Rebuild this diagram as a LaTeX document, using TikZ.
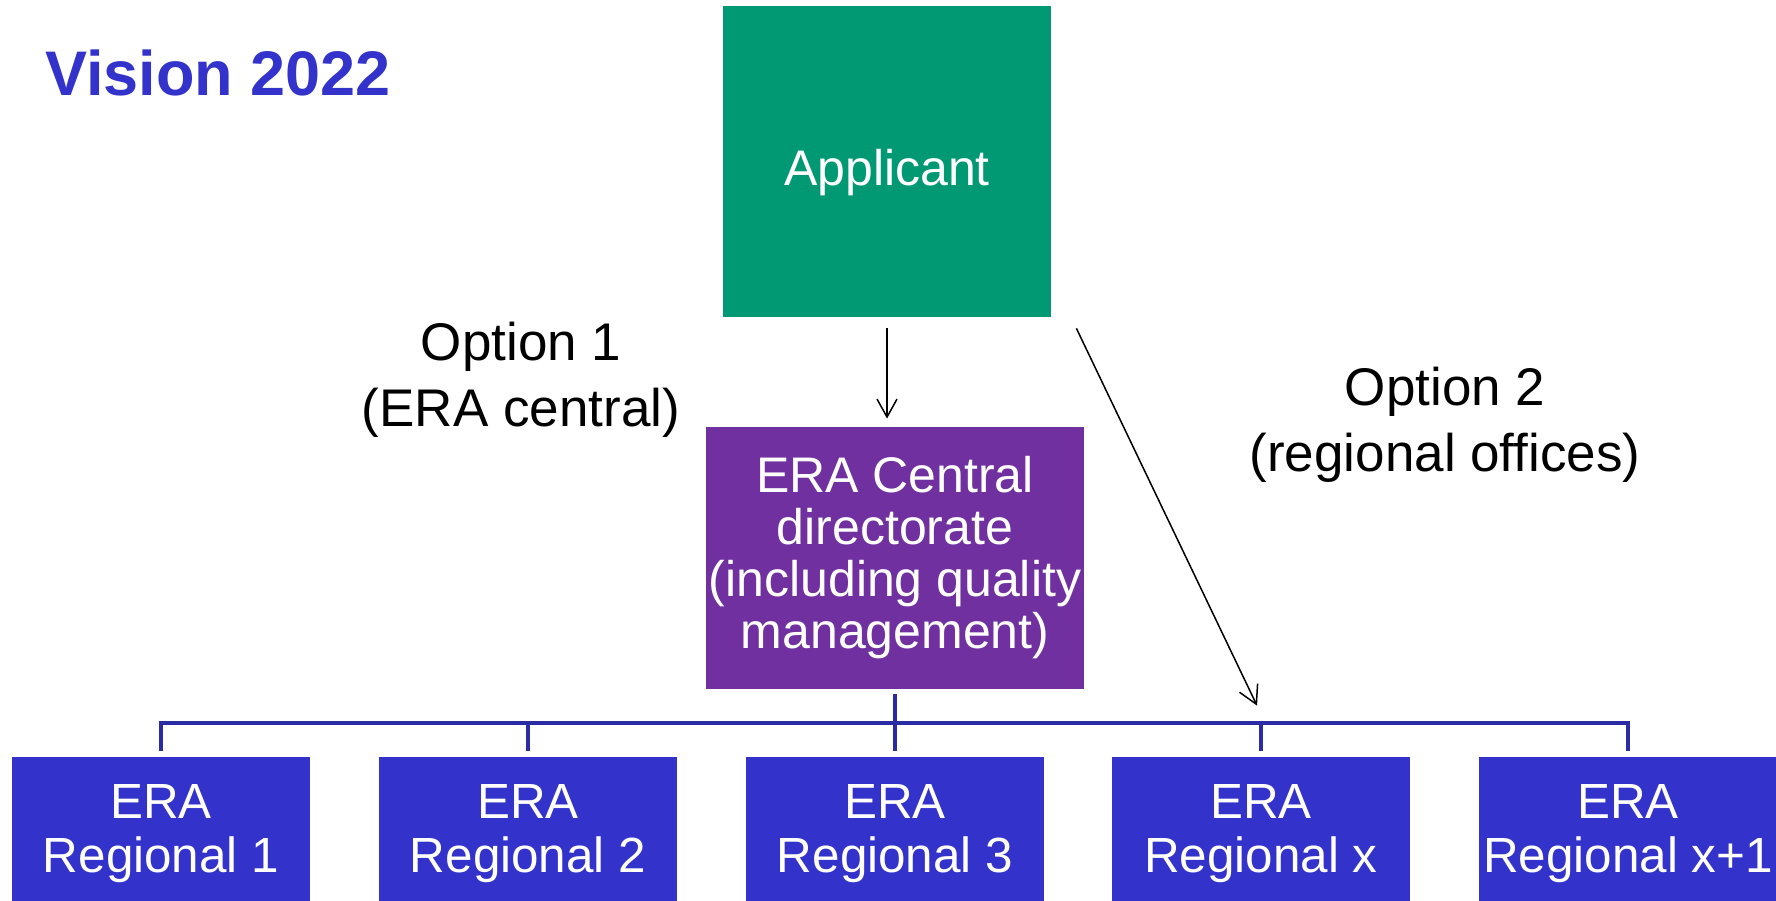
\documentclass[tikz,border=0pt]{standalone}
\usepackage{fontspec}
\setmainfont{Liberation Sans}
\usetikzlibrary{arrows.meta,calc}
\definecolor{appgreen}{RGB}{0,153,116}
\definecolor{cenpurple}{RGB}{112,48,160}
\definecolor{regblue}{RGB}{51,51,204}
\definecolor{treeblue}{RGB}{43,43,165}
\tikzset{
  appbox/.style={fill=appgreen, minimum width=164pt, minimum height=155.5pt, inner sep=0pt, text=white, text height=29pt, text depth=5.3pt, font=\fontsize{25}{26}\selectfont},
  cenbox/.style={fill=cenpurple, minimum width=189pt, minimum height=131pt, inner sep=0pt, text=white, align=center, font=\fontsize{25}{26}\selectfont},
  regbox/.style={fill=regblue, minimum width=149pt, minimum height=76.5pt, inner sep=0pt, text=white, align=center, font=\fontsize{24.7}{27}\selectfont},
  optlabel/.style={align=center, inner sep=0pt, font=\fontsize{26.5}{33}\selectfont},
  arr/.style={-{Straight Barb[length=9pt,width=10pt]}, line width=0.75pt},
  tree/.style={draw=treeblue, line width=2pt}
}
\begin{document}
\begin{tikzpicture}[x=0.5pt,y=-0.5pt]
\useasboundingbox (0,0) rectangle (1776,900);
\node[anchor=base west, inner sep=0pt, text=regblue, font=\fontsize{31.5}{36}\selectfont\bfseries] (title) at (45,95.5) {Vision 2022};
\node[appbox] (app) at (887,161.5) {Applicant};
\node[cenbox] (cen) at (895,558) {ERA Central\\directorate\\(including quality\\management)};
\node[regbox] (r1) at (161,833.5) {ERA\\Regional 1};
\node[regbox] (r2) at (528,833.5) {ERA\\Regional 2};
\node[regbox] (r3) at (895,833.5) {ERA\\Regional 3};
\node[regbox] (r4) at (1261,833.5) {ERA\\Regional x};
\node[regbox] (r5) at (1628,833.5) {ERA\\Regional x+1};
\node[optlabel] (opt1) at (521,380) {Option 1\\(ERA central)};
\node[optlabel] (opt2) at (1445,425) {Option 2\\(regional offices)};
% arrows
\draw[arr] ($(app.south)+(0,11)$) -- ($(app.south |- cen.north)+(0,-8)$);
\coordinate (o2s) at ($(app.south east)+(25,11)$);
\coordinate (o2e) at ($(r4.north)+(-4,-51)$);
\draw[arr] (o2s) -- (o2e);
% tree
\draw[tree] ($(r1.north)+(0,-6)$) -- ($(r1.north)+(0,-34)$) -- ($(r5.north)+(0,-34)$) -- ($(r5.north)+(0,-6)$);
\draw[tree] ($(r2.north)+(0,-6)$) -- ($(r2.north)+(0,-34)$);
\draw[tree] ($(r4.north)+(0,-6)$) -- ($(r4.north)+(0,-34)$);
\draw[tree] ($(cen.south)+(0,5)$) -- ($(r3.north)+(0,-6)$);
\end{tikzpicture}
\end{document}
